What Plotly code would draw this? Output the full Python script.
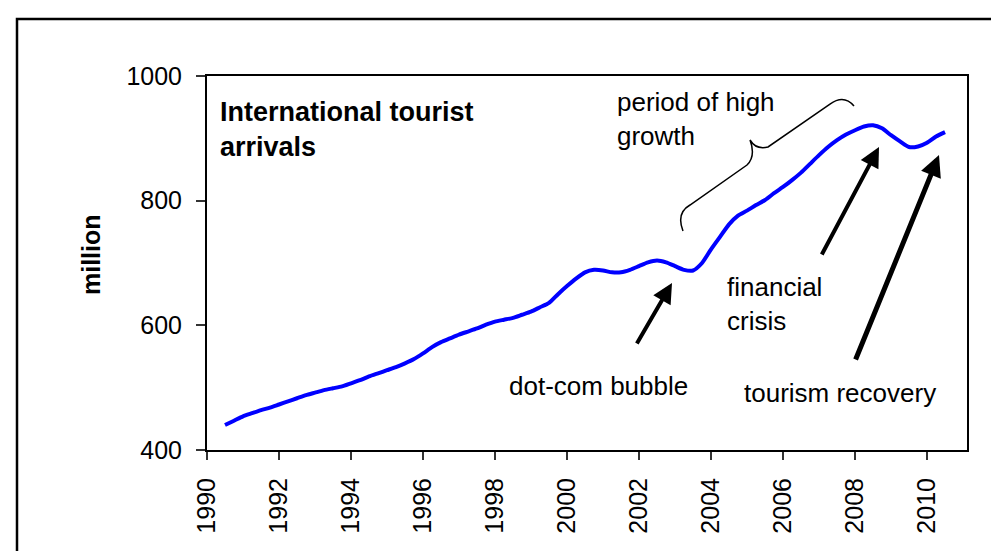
import plotly.graph_objects as go

# ---- data ----
years = [1990.50, 1990.75, 1991.00, 1991.25, 1991.50, 1991.75, 1992.00, 1992.25, 1992.50, 1992.75,
         1993.00, 1993.25, 1993.50, 1993.75, 1994.00, 1994.25, 1994.50, 1994.75, 1995.00, 1995.25,
         1995.50, 1995.75, 1996.00, 1996.25, 1996.50, 1996.75, 1997.00, 1997.25, 1997.50, 1997.75,
         1998.00, 1998.25, 1998.50, 1998.75, 1999.00, 1999.25, 1999.50, 1999.75, 2000.00, 2000.25,
         2000.50, 2000.75, 2001.00, 2001.25, 2001.50, 2001.75, 2002.00, 2002.25, 2002.50, 2002.75,
         2003.00, 2003.25, 2003.50, 2003.75, 2004.00, 2004.25, 2004.50, 2004.75, 2005.00, 2005.25,
         2005.50, 2005.75, 2006.00, 2006.25, 2006.50, 2006.75, 2007.00, 2007.25, 2007.50, 2007.75,
         2008.00, 2008.25, 2008.50, 2008.75, 2009.00, 2009.25, 2009.50, 2009.75, 2010.00, 2010.25,
         2010.50]
arrivals = [440, 447, 454, 459, 464, 468, 473, 478, 483, 488,
            492, 496, 499, 502, 507, 512, 518, 523, 528, 533,
            539, 546, 555, 565, 573, 579, 585, 590, 595, 601,
            606, 609, 612, 617, 622, 629, 636, 650, 663, 675,
            685, 689, 688, 685, 685, 689, 695, 701, 704, 701,
            695, 689, 688, 700, 722, 742, 762, 776, 784, 793,
            801, 812, 822, 833, 845, 859, 873, 886, 897, 906,
            913, 919, 921, 916, 905, 895, 886, 887, 893, 903,
            910]
x_ticks = [1990, 1992, 1994, 1996, 1998, 2000, 2002, 2004, 2006, 2008, 2010]
x_tick_labels = [str(v) for v in x_ticks]
y_ticks = [400, 600, 800, 1000]
y_tick_labels = [str(v) for v in y_ticks]

# ---- layout geometry (pixels) ----
W, H = 999, 551
L, R, T, B = 199, 959, 68, 442  # plot area edges


def px(xp):
    return (xp - L) / (R - L)


def py(yp):
    return (B - yp) / (B - T)


FONT = "Arial, 'Liberation Sans', sans-serif"

fig = go.Figure()
fig.add_trace(go.Scatter(
    x=years, y=arrivals, mode="lines",
    line=dict(color="#0000FF", width=4, shape="spline", smoothing=0.6),
    showlegend=False, hoverinfo="x+y",
))

annotations = []
# text labels: (text, left px, centre px, size)
texts = [
    ("<b>International tourist<br>arrivals</b>", 210, 121, 27),
    ("period of high<br>growth", 607, 111, 26),
    ("dot-com bubble", 499, 378, 26),
    ("financial<br>crisis", 717, 296, 26),
    ("tourism recovery", 734, 385, 26),
]
for t, xp, yp, fs in texts:
    annotations.append(dict(
        text=t, x=px(xp), y=py(yp), xref="paper", yref="paper",
        xanchor="left", yanchor="middle", align="left", showarrow=False,
        font=dict(family=FONT, size=fs, color="black"),
    ))

# y-axis title
annotations.append(dict(
    text="<b>million</b>", x=px(83), y=py(247), xref="paper", yref="paper",
    xanchor="center", yanchor="middle", textangle=-90, showarrow=False,
    font=dict(family=FONT, size=25, color="black"),
))

# arrows (tip, tail in pixel space)
arrows = [
    ((664, 275), (628, 337), 4, 1.0),
    ((871, 139), (813, 248), 4, 1.0),
    ((931, 147), (847, 353), 5, 0.85),
]
for (tx, ty), (sx, sy), w, s in arrows:
    annotations.append(dict(
        text="", x=px(tx), y=py(ty), xref="paper", yref="paper",
        ax=sx - tx, ay=sy - ty, axref="pixel", ayref="pixel",
        showarrow=True, arrowhead=2, arrowwidth=w, arrowsize=s,
        arrowcolor="black", standoff=0,
    ))


def pp(xp, yp):
    return f"{px(xp):.4f},{py(yp):.4f}"


brace = (f"M {pp(675, 223)} Q {pp(668, 205)} {pp(682, 197)} L {pp(739, 157)} "
         f"Q {pp(748, 148)} {pp(742, 132)} Q {pp(748, 142)} {pp(760, 139)} "
         f"L {pp(822, 96)} Q {pp(836, 86)} {pp(846, 98)}")

shapes = [
    # curly brace
    dict(type="path", path=brace, xref="paper", yref="paper",
         line=dict(color="black", width=1.5)),
    # outer frame (extends past the right and bottom edges)
    dict(type="rect", xref="paper", yref="paper",
         x0=px(9), x1=px(1010), y0=py(11), y1=py(570),
         line=dict(color="black", width=2.5), layer="below"),
]

fig.update_layout(
    width=W, height=H,
    margin=dict(l=L, r=W - R, t=T, b=H - B),
    paper_bgcolor="white", plot_bgcolor="white",
    font=dict(family=FONT, size=25, color="black"),
    xaxis=dict(
        range=[1990, 2011.11], tickmode="array", tickvals=x_ticks, ticktext=x_tick_labels,
        tickangle=-90, ticks="outside", ticklen=8, tickwidth=1.5, tickcolor="#333",
        ticklabelstandoff=8,
        showline=True, linecolor="black", linewidth=2, mirror=True,
        showgrid=False, zeroline=False, tickfont=dict(size=25),
    ),
    yaxis=dict(
        range=[400, 1000], tickmode="array", tickvals=y_ticks, ticktext=y_tick_labels,
        ticks="outside", ticklen=9, tickwidth=1.5, tickcolor="#333",
        ticklabelstandoff=9,
        showline=True, linecolor="black", linewidth=2, mirror=True,
        showgrid=False, zeroline=False, tickfont=dict(size=25),
    ),
    annotations=annotations,
    shapes=shapes,
    showlegend=False,
)

fig.write_html("out.html")
